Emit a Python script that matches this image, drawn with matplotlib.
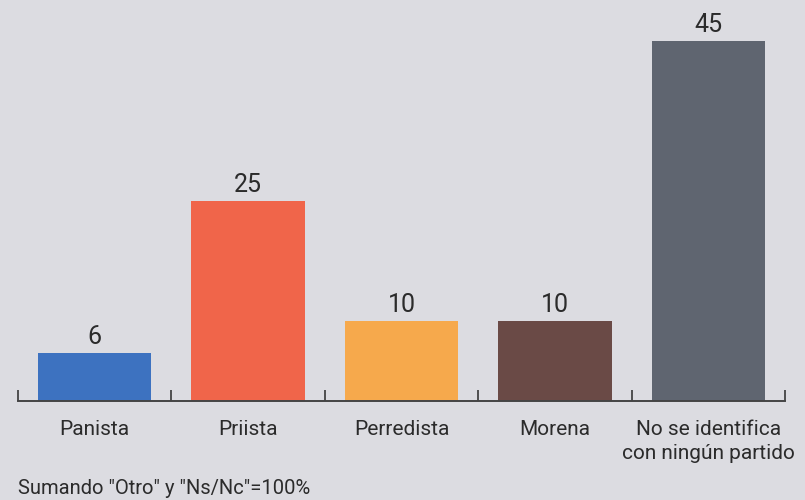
import matplotlib.pyplot as plt
from matplotlib import font_manager

categories = ["Panista", "Priista", "Perredista", "Morena", "No se identifica\ncon ningún partido"]
values = [6, 25, 10, 10, 45]
colors = ["#3d72c0", "#f0654a", "#f6a94c", "#6a4a46", "#5f6570"]
note = 'Sumando "Otro" y "Ns/Nc"=100%'

names = {f.name for f in font_manager.fontManager.ttflist}
fam = ["Liberation Sans Narrow"] if "Liberation Sans Narrow" in names else []
plt.rcParams["font.family"] = fam + ["Roboto", "DejaVu Sans"]

fig = plt.figure(figsize=(8.05, 5.0), dpi=100)
fig.patch.set_facecolor("#dcdce1")
ax = fig.add_axes([18 / 805, 99 / 500, 767 / 805, 401 / 500])
ax.set_facecolor("#dcdce1")

x = range(len(categories))
bars = ax.bar(x, values, width=0.74, color=colors)
for b, v in zip(bars, values):
    ax.text(b.get_x() + b.get_width() / 2, v + 0.5, str(v), ha="center", va="bottom",
            fontsize=18, color="#2b2b2b")

ax.set_xlim(-0.5, 4.5)
ax.set_ylim(0, 50.1)
ax.set_yticks([])
ax.set_xticks(list(x))
ax.set_xticklabels(categories, fontsize=15, color="#2b2b2b", linespacing=1.3, va="top")
ax.tick_params(axis="x", which="major", length=0, pad=14)
ax.set_xticks([i - 0.5 for i in range(len(categories) + 1)], minor=True)
ax.tick_params(axis="x", which="minor", direction="in", length=8, width=1.3, color="#444444")
for s in ["top", "right", "left"]:
    ax.spines[s].set_visible(False)
ax.spines["bottom"].set_color("#444444")
ax.spines["bottom"].set_linewidth(1.4)

fig.text(18 / 805, 1 - 488 / 500, note, fontsize=14.5, color="#2b2b2b", va="center", ha="left")

fig.savefig("out.png", dpi=100, facecolor=fig.get_facecolor())
